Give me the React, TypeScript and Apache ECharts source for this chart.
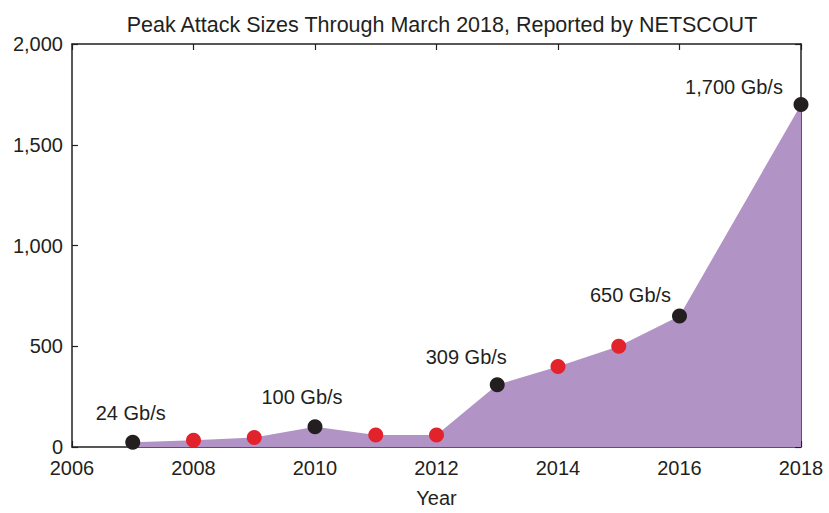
import React, { useEffect, useRef } from "react";
import * as echarts from "echarts";

const years = [2007, 2008, 2009, 2010, 2011, 2012, 2013, 2014, 2015, 2016, 2018];
const peaks = [24, 34, 47, 100, 60, 59, 309, 400, 500, 650, 1700];
const highlighted = [true, false, false, true, false, false, true, false, false, true, true];
const peakLabels = ["24 Gb/s", "", "", "100 Gb/s", "", "", "309 Gb/s", "", "", "650 Gb/s", "1,700 Gb/s"];
const labelOffsets: [number, number][] = [
  [-2, -29], [0, 0], [0, 0], [-13, -30], [0, 0], [0, 0], [-31, -28], [0, 0], [0, 0], [-49, -21], [-67, -17],
];

const FONT = "Liberation Sans, Arial, Helvetica, sans-serif";
const FS = 20;

export default function App() {
  const ref = useRef<HTMLDivElement>(null);
  useEffect(() => {
    if (!ref.current) return;
    document.body.style.margin = "0";
    document.body.style.overflow = "hidden";
    const chart = echarts.init(ref.current, undefined, { renderer: "svg", width: 829, height: 513 });
    const data = years.map((y, i) => ({
      value: [y, peaks[i]],
      itemStyle: { color: highlighted[i] ? "#231f20" : "#e3232b" },
      label: peakLabels[i]
        ? {
            show: true,
            formatter: peakLabels[i],
            position: "inside",
            offset: labelOffsets[i],
            color: "#231f20",
            fontSize: FS,
            fontFamily: FONT,
          }
        : { show: false },
    }));
    const axisCommon = {
      axisLine: { show: true, onZero: false, lineStyle: { color: "#231f20", width: 1.5 } },
      axisTick: { show: true, inside: true, length: 6, lineStyle: { color: "#231f20", width: 1.2 } },
      splitLine: { show: false },
    };
    chart.setOption({
      animation: false,
      backgroundColor: "#ffffff",
      title: {
        text: "Peak Attack Sizes Through March 2018, Reported by NETSCOUT",
        left: 437,
        top: 9,
        textAlign: "center",
        textStyle: { fontSize: 21.5, fontWeight: "normal", color: "#231f20", fontFamily: FONT },
      },
      grid: { left: 72, right: 28, top: 44, bottom: 60, containLabel: false },
      xAxis: [
        {
          type: "value",
          min: 2006,
          max: 2018,
          interval: 2,
          position: "bottom",
          name: "Year",
          nameLocation: "middle",
          nameGap: 41,
          nameTextStyle: { fontSize: FS, color: "#231f20", fontFamily: FONT },
          axisLabel: { fontSize: FS, color: "#231f20", fontFamily: FONT, margin: 11, formatter: (v: number) => String(v) },
          ...axisCommon,
        },
        {
          type: "value",
          min: 2006,
          max: 2018,
          interval: 2,
          position: "top",
          axisLabel: { show: false },
          ...axisCommon,
        },
      ],
      yAxis: [
        {
          type: "value",
          min: 0,
          max: 2000,
          interval: 500,
          position: "left",
          axisLabel: {
            fontSize: FS,
            color: "#231f20",
            fontFamily: FONT,
            margin: 9,
            formatter: (v: number) => v.toLocaleString("en-US"),
          },
          ...axisCommon,
        },
        {
          type: "value",
          min: 0,
          max: 2000,
          interval: 500,
          position: "right",
          axisLabel: { show: false },
          ...axisCommon,
        },
      ],
      series: [
        {
          type: "line",
          data,
          xAxisIndex: 0,
          yAxisIndex: 0,
          symbol: "circle",
          symbolSize: 15,
          showSymbol: true,
          lineStyle: { width: 0, color: "#b194c5" },
          areaStyle: { color: "#b194c5", opacity: 1 },
          z: 2,
        },
      ],
    });
    return () => chart.dispose();
  }, []);
  return <div ref={ref} style={{ width: 829, height: 513, position: "absolute", left: 0, top: 0 }} />;
}
